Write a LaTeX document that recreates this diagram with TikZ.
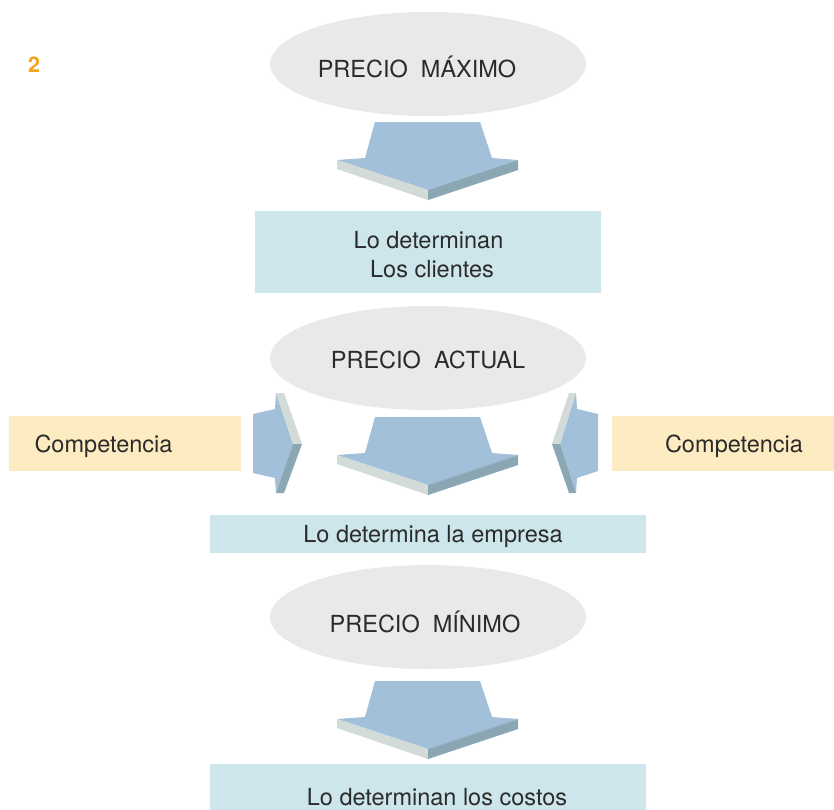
\documentclass[tikz,border=0pt]{standalone}
\usepackage{fontspec}
\setmainfont{TeX Gyre Heros}
\usetikzlibrary{shapes.geometric}
\definecolor{ellgray}{HTML}{E9E9EB}
\definecolor{boxcyan}{HTML}{CDE6EC}
\definecolor{boxyellow}{HTML}{FDEBC2}
\definecolor{arrtop}{HTML}{A3C0DA}
\definecolor{arrlight}{HTML}{D3DBD9}
\definecolor{arrdark}{HTML}{8BA7B4}
\definecolor{txt}{HTML}{2B2B2B}
\definecolor{numorange}{HTML}{F7A21B}
\begin{document}
\begin{tikzpicture}[x=1pt,y=-1pt,
  ell/.style={ellipse,fill=ellgray,minimum width=316pt,minimum height=104pt,inner sep=0pt},
  cyanbox/.style={rectangle,fill=boxcyan,inner sep=0pt},
  yelbox/.style={rectangle,fill=boxyellow,inner sep=0pt,minimum width=#1,minimum height=55pt},
  lbl/.style={anchor=base,inner sep=0pt,text=txt,font=\fontsize{23.5}{29}\selectfont},
  downarr/.pic={
    \fill[arrtop] (-53,0) -- (52,0) -- (64,36) -- (90,38) -- (0,68) -- (-91,38) -- (-63,36) -- cycle;
    \fill[arrlight] (-91,38) -- (0,68) -- (0,78) -- (-91,47) -- cycle;
    \fill[arrdark] (0,68) -- (90,38) -- (90,48) -- (0,78) -- cycle;
  }]
\useasboundingbox[fill=white] (0,0) rectangle (834,809);

% number
\node[anchor=base,inner sep=0pt,text=numorange,font=\fontsize{21.5}{24}\bfseries\selectfont] (num) at (34,72) {2};

% ellipses
\node[ell] (emax) at (428,64) {};
\node[ell] (eact) at (428,358) {};
\node[ell] (emin) at (428,617) {};
\node[lbl] (tmax) at (417,77) {PRECIO\ \ MÁXIMO};
\node[lbl] (tact) at (428,368) {PRECIO\ \ ACTUAL};
\node[lbl] (tmin) at (425,632) {PRECIO\ \ MÍNIMO};

% down arrows
\pic at (428,122) {downarr};
\pic at (428,417) {downarr};
\pic at (428,681) {downarr};

% left side arrow (pointing right)
\fill[arrtop] (253,414) -- (275,409) -- (276,393) -- (293,444) -- (276,493) -- (275,478) -- (253,473) -- cycle;
\fill[arrlight] (276,393) -- (284,393) -- (302,444) -- (293,444) -- cycle;
\fill[arrdark] (293,444) -- (302,444) -- (284,493) -- (276,493) -- cycle;
% right side arrow (pointing left)
\fill[arrtop] (598,414) -- (577,409) -- (576,393) -- (560,444) -- (576,493) -- (577,478) -- (598,471) -- cycle;
\fill[arrlight] (576,393) -- (569,393) -- (552,444) -- (560,444) -- cycle;
\fill[arrdark] (560,444) -- (552,444) -- (569,493) -- (576,493) -- cycle;

% boxes
\node[cyanbox,minimum width=346pt,minimum height=82pt] (b1) at (428,252) {};
\node[lbl] (b1a) at (428.5,248) {Lo determinan};
\node[lbl] (b1b) at (432,277) {Los clientes};
\node[cyanbox,minimum width=436pt,minimum height=38pt] (b2) at (428,534) {};
\node[lbl] (b2t) at (433,542) {Lo determina la empresa};
\node[cyanbox,minimum width=436pt,minimum height=52pt] (b3) at (428,790) {};
\node[lbl] (b3t) at (437,805) {Lo determinan los costos};

\node[yelbox=232pt] (cl) at (125,443.5) {};
\node[lbl] (clt) at (103.5,452) {Competencia};
\node[yelbox=222pt] (cr) at (723,443.5) {};
\node[lbl] (crt) at (734,452) {Competencia};
\end{tikzpicture}
\end{document}
